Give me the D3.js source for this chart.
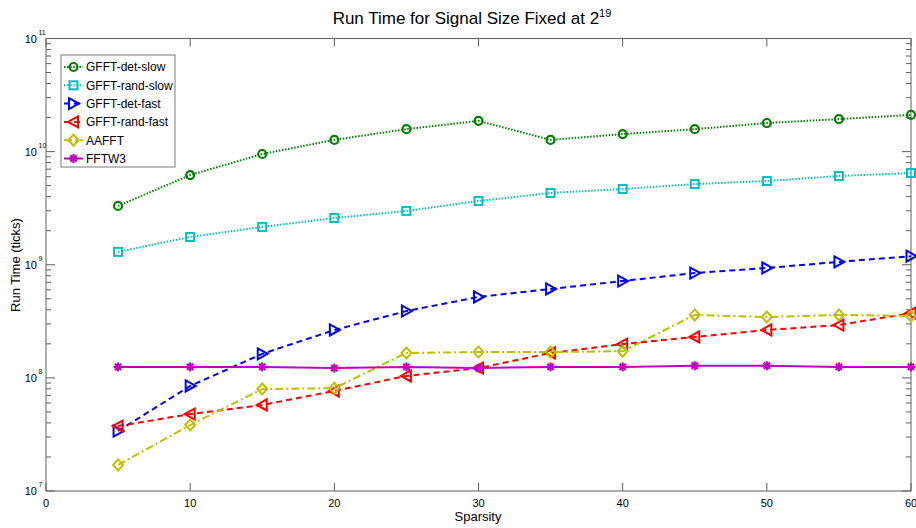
<!DOCTYPE html>
<html>
<head>
<meta charset="utf-8">
<script src="https://cdn.jsdelivr.net/npm/d3@7"></script>
<style>
  html, body { margin: 0; padding: 0; background: #fff; }
  svg { display: block; }
  text { font-family: "Liberation Sans", Arial, Helvetica, sans-serif; fill: #000; }
  .narrow { font-family: "Liberation Sans Narrow", "Liberation Sans", Arial, sans-serif; }
</style>
</head>
<body>
<svg id="chart" width="916" height="528"></svg>
<script>
// ---------- data ----------
const sparsity = [5, 10, 15, 20, 25, 30, 35, 40, 45, 50, 55, 60];
const gfftDetSlow  = [3.31e9, 6.21e9, 9.53e9, 1.27e10, 1.58e10, 1.87e10, 1.27e10, 1.43e10, 1.58e10, 1.79e10, 1.94e10, 2.11e10];
const gfftRandSlow = [1.30e9, 1.76e9, 2.16e9, 2.59e9, 2.99e9, 3.66e9, 4.31e9, 4.67e9, 5.17e9, 5.50e9, 6.09e9, 6.47e9];
const gfftDetFast  = [3.39e7, 8.48e7, 1.63e8, 2.65e8, 3.90e8, 5.19e8, 6.11e8, 7.18e8, 8.45e8, 9.36e8, 1.06e9, 1.19e9];
const gfftRandFast = [3.75e7, 4.79e7, 5.76e7, 7.66e7, 1.04e8, 1.22e8, 1.66e8, 1.99e8, 2.30e8, 2.65e8, 2.93e8, 3.74e8];
const aafft        = [1.70e7, 3.83e7, 7.97e7, 8.10e7, 1.66e8, 1.69e8, 1.69e8, 1.72e8, 3.60e8, 3.45e8, 3.60e8, 3.52e8];
const fftw3        = [1.25e8, 1.25e8, 1.25e8, 1.22e8, 1.25e8, 1.22e8, 1.25e8, 1.25e8, 1.28e8, 1.28e8, 1.25e8, 1.25e8];
const seriesNames  = ["GFFT-det-slow", "GFFT-rand-slow", "GFFT-det-fast", "GFFT-rand-fast", "AAFFT", "FFTW3"];
const xTickValues  = [0, 10, 20, 30, 40, 50, 60];
const yDecadeExps  = [7, 8, 9, 10, 11];
const titleText    = "Run Time for Signal Size Fixed at 2";
const titleExp     = "19";
const xLabel       = "Sparsity";
const yLabel       = "Run Time (ticks)";

// ---------- styles ----------
const styles = [
  { color: "#008000", dash: "1.5,1.6", marker: "circle" },
  { color: "#00bfbf", dash: "1.5,1.6", marker: "square" },
  { color: "#0000ff", dash: "6,4",     marker: "triRight" },
  { color: "#ff0000", dash: "6,4",     marker: "triLeft" },
  { color: "#bfbf00", dash: "8,3,2,3", marker: "diamond" },
  { color: "#bf00bf", dash: null,      marker: "star" }
];
const allSeries = [gfftDetSlow, gfftRandSlow, gfftDetFast, gfftRandFast, aafft, fftw3];

const svg = d3.select("#chart");
const L = 46, R = 911, T = 38.5, B = 491;

const x = d3.scaleLinear().domain([0, 60]).range([L, R]);
const y = d3.scaleLog().domain([1e7, 1e11]).range([B, T]);

// ---------- axes frame & ticks ----------
const axisColor = "#606060";
const g = svg.append("g");

// x ticks bottom/top
xTickValues.forEach(v => {
  g.append("line").attr("x1", x(v)).attr("x2", x(v)).attr("y1", B).attr("y2", B - 8)
    .attr("stroke", axisColor).attr("stroke-width", 1);
  g.append("line").attr("x1", x(v)).attr("x2", x(v)).attr("y1", T).attr("y2", T + 8)
    .attr("stroke", axisColor).attr("stroke-width", 1);
  g.append("text").attr("class", "narrow").attr("x", x(v)).attr("y", B + 16)
    .attr("text-anchor", "middle").attr("font-size", 11).text(v);
});

// y ticks (major + minor) left/right
const yMinor = [];
for (let e = 7; e < 11; e++) for (let m = 2; m <= 9; m++) yMinor.push(m * Math.pow(10, e));
yMinor.forEach(v => {
  g.append("line").attr("x1", L).attr("x2", L + 5).attr("y1", y(v)).attr("y2", y(v))
    .attr("stroke", axisColor).attr("stroke-width", 1);
  g.append("line").attr("x1", R).attr("x2", R - 5).attr("y1", y(v)).attr("y2", y(v))
    .attr("stroke", axisColor).attr("stroke-width", 1);
});
yDecadeExps.forEach(e => {
  const v = Math.pow(10, e);
  g.append("line").attr("x1", L).attr("x2", L + 9).attr("y1", y(v)).attr("y2", y(v))
    .attr("stroke", axisColor).attr("stroke-width", 1);
  g.append("line").attr("x1", R).attr("x2", R - 9).attr("y1", y(v)).attr("y2", y(v))
    .attr("stroke", axisColor).attr("stroke-width", 1);
  g.append("text").attr("class", "narrow").attr("x", 37).attr("y", y(v) + 4)
    .attr("text-anchor", "end").attr("font-size", 11).text("10");
  g.append("text").attr("class", "narrow").attr("x", 38.5).attr("y", y(v) - 4)
    .attr("text-anchor", "start").attr("font-size", 7).text(e);
});

// frame
g.append("rect").attr("x", L).attr("y", T).attr("width", R - L).attr("height", B - T)
  .attr("fill", "none").attr("stroke", axisColor).attr("stroke-width", 1);

// ---------- labels ----------
const title = svg.append("text").attr("x", 472).attr("y", 24).attr("text-anchor", "middle")
  .attr("font-size", 17);
title.append("tspan").text(titleText);
title.append("tspan").attr("font-size", 11).attr("dy", -7).text(titleExp);

svg.append("text").attr("x", 478).attr("y", 521).attr("text-anchor", "middle")
  .attr("font-size", 13).text(xLabel);
svg.append("text").attr("transform", "translate(20,265) rotate(-90)")
  .attr("text-anchor", "middle").attr("font-size", 13).text(yLabel);

// ---------- markers ----------
function drawMarker(sel, type, cx, cy, color) {
  const sw = 2;
  if (type === "circle") {
    sel.append("circle").attr("cx", cx).attr("cy", cy).attr("r", 4)
      .attr("fill", "none").attr("stroke", color).attr("stroke-width", 2.2);
  } else if (type === "square") {
    sel.append("rect").attr("x", cx - 4).attr("y", cy - 4).attr("width", 8).attr("height", 8)
      .attr("fill", "none").attr("stroke", color).attr("stroke-width", sw);
  } else if (type === "triRight") {
    sel.append("path").attr("d", `M${cx-4.5},${cy-5.5} L${cx+5.5},${cy} L${cx-4.5},${cy+5.5} Z`)
      .attr("fill", "none").attr("stroke", color).attr("stroke-width", sw);
  } else if (type === "triLeft") {
    sel.append("path").attr("d", `M${cx+4.5},${cy-5.5} L${cx-5.5},${cy} L${cx+4.5},${cy+5.5} Z`)
      .attr("fill", "none").attr("stroke", color).attr("stroke-width", sw);
  } else if (type === "diamond") {
    sel.append("path").attr("d", `M${cx},${cy-5.5} L${cx+5},${cy} L${cx},${cy+5.5} L${cx-5},${cy} Z`)
      .attr("fill", "none").attr("stroke", color).attr("stroke-width", sw);
  } else if (type === "star") {
    const r = 4.5;
    const d = [[-r,0,r,0],[0,-r,0,r],[-r*0.7,-r*0.7,r*0.7,r*0.7],[-r*0.7,r*0.7,r*0.7,-r*0.7]];
    d.forEach(s => sel.append("line").attr("x1", cx+s[0]).attr("y1", cy+s[1])
      .attr("x2", cx+s[2]).attr("y2", cy+s[3]).attr("stroke", color).attr("stroke-width", 2.2));
  }
}

// ---------- series ----------
const line = d3.line().x(d => x(d[0])).y(d => y(d[1]));
const plot = svg.append("g");
allSeries.forEach((vals, i) => {
  const st = styles[i];
  const pts = sparsity.map((s, j) => [s, vals[j]]);
  plot.append("path").datum(pts).attr("d", line).attr("fill", "none")
    .attr("stroke", st.color).attr("stroke-width", 2)
    .attr("stroke-dasharray", st.dash);
  pts.forEach(p => drawMarker(plot, st.marker, x(p[0]), y(p[1]), st.color));
});

// ---------- legend ----------
const lg = svg.append("g");
lg.append("rect").attr("x", 61).attr("y", 55).attr("width", 114).attr("height", 112)
  .attr("fill", "#fff").attr("stroke", "#7a7a7a").attr("stroke-width", 1);
seriesNames.forEach((name, i) => {
  const st = styles[i];
  const yy = 67 + i * 18.3;
  lg.append("line").attr("x1", 64).attr("x2", 83).attr("y1", yy).attr("y2", yy)
    .attr("stroke", st.color).attr("stroke-width", 2).attr("stroke-dasharray", st.dash);
  drawMarker(lg, st.marker, 73.5, yy, st.color);
  lg.append("text").attr("x", 86).attr("y", yy + 4.3).attr("font-size", 12).text(name);
});
</script>
</body>
</html>
